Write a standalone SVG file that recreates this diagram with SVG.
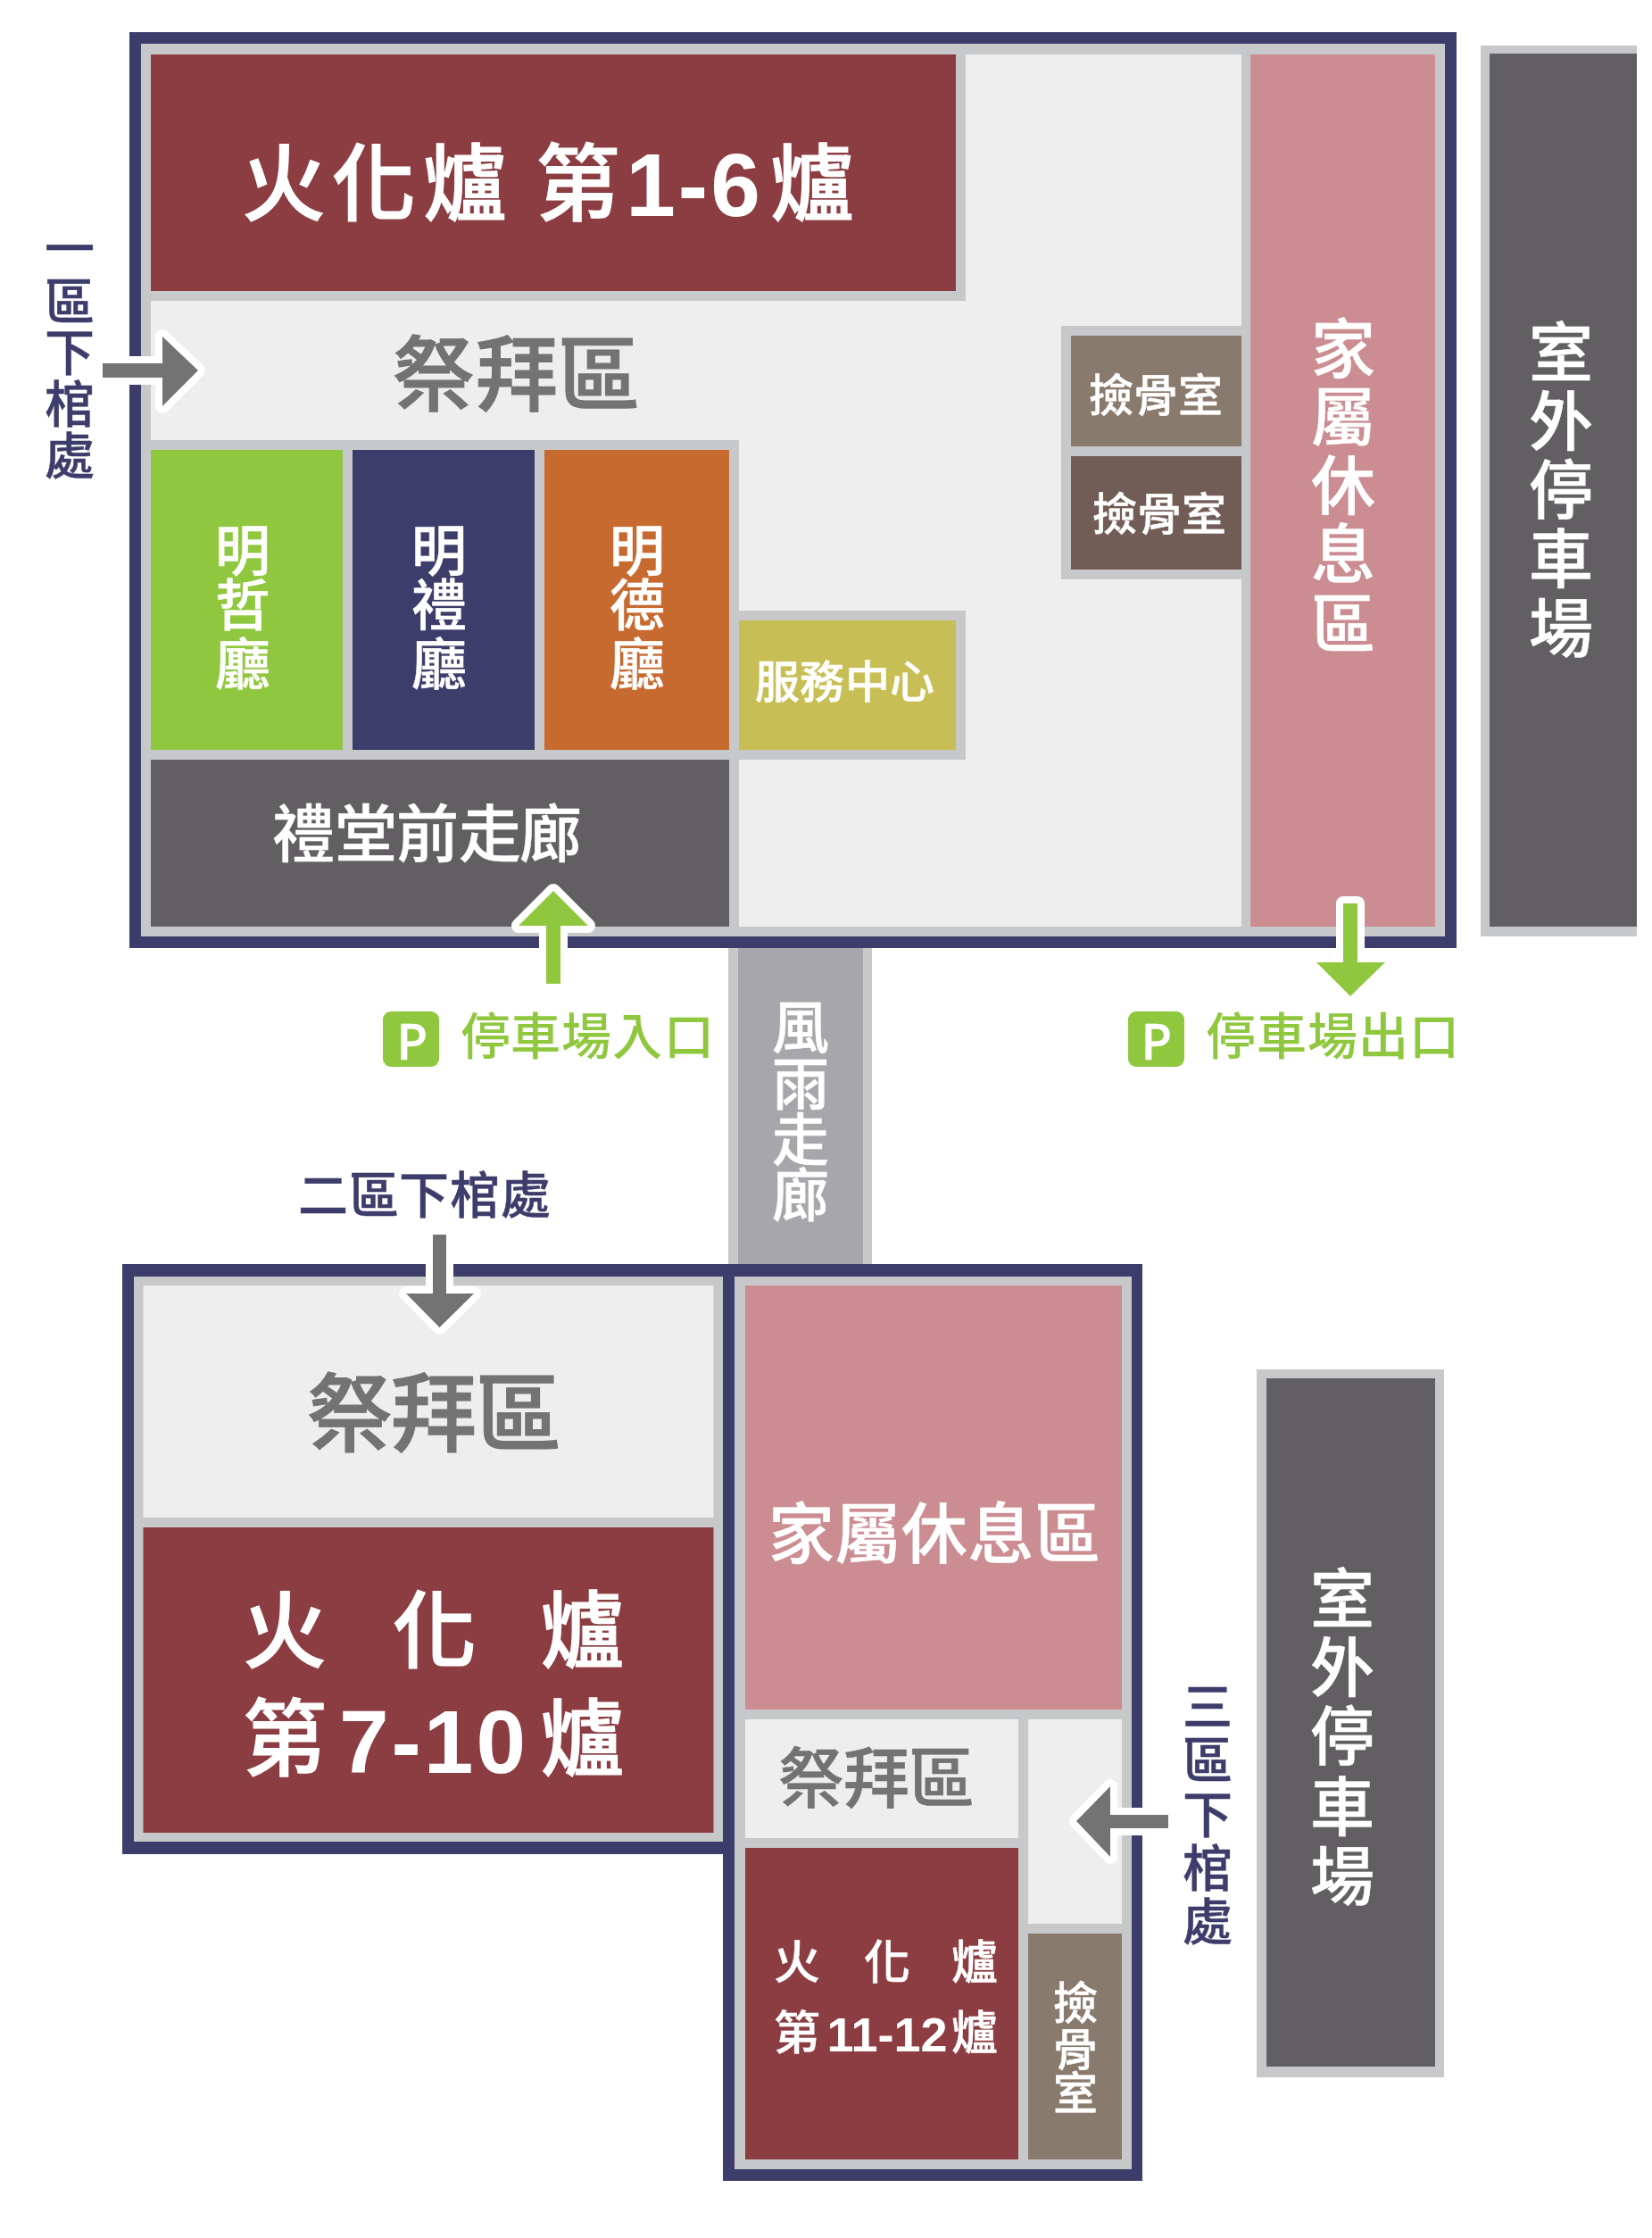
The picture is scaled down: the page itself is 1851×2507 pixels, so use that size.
<svg xmlns="http://www.w3.org/2000/svg" width="1851" height="2507" viewBox="0 0 1851 2507">
<style>
text{font-family:"Noto Sans CJK TC","Noto Sans",sans-serif;text-anchor:middle;font-weight:500;stroke-width:.5px}
.w{fill:#fff;stroke:#fff}.g{fill:#737373;stroke:#737373}.n{fill:#3d3d6b;stroke:#3d3d6b}.l{fill:#8fc73e;stroke:none}
.big{stroke-width:1.2px}
.d{font-family:"Liberation Sans",Arial,sans-serif;font-weight:700;letter-spacing:3px;stroke:none}
.navy{fill:#3d3d6b}.grey{fill:#c7c8ca}.light{fill:#eeeeee}.red{fill:#8c3d42}.pink{fill:#cb8d92}.dark{fill:#625f63}.taupe{fill:#897a6e}.brown{fill:#715c56}
.arrow{stroke:#fff;stroke-width:16;stroke-linejoin:round;paint-order:stroke}
</style>
<g id="corridor">
<rect class="grey" x="816" y="1060" width="161" height="358"/>
<rect x="827" y="1060" width="140" height="358" fill="#a7a6ab"/>
<text class="w" font-size="64" x="897 897 897 897" y="1174 1237 1300 1362">風雨走廊</text>
</g>
<g id="building-1">
<rect class="navy" x="145" y="36" width="1487" height="1026"/>
<rect class="grey" x="158" y="49" width="1461" height="1000"/>
<rect class="light" x="169" y="61" width="1439" height="977"/>
</g>
<g id="furnace-1-6">
<rect class="grey" x="158" y="49" width="924" height="288"/>
<rect class="red" x="169" y="61" width="902" height="265"/>
<text class="w big" font-size="94" y="240" x="318 419 521 647.500">火化爐第<tspan class="d" font-size="100" x="778" y="242">1-6</tspan><tspan x="910" y="240">爐</tspan></text>
</g>
<g id="worship-1">
<text class="g big" font-size="92" x="486 579 671" y="453">祭拜區</text>
</g>
<g id="hall-back">
<rect class="grey" x="158" y="493" width="670" height="556"/>
<rect class="grey" x="827" y="684" width="255" height="167"/>
</g>
<g id="hall-zhe">
<rect x="169" y="504" width="215" height="336" fill="#8fc73e"/>
<text class="w" font-size="62" x="272 272 272" y="640 701 767">明哲廳</text>
</g>
<g id="hall-li">
<rect class="navy" x="395" y="504" width="204" height="336"/>
<text class="w" font-size="62" x="492 492 492" y="640 701 767">明禮廳</text>
</g>
<g id="hall-de">
<rect x="610" y="504" width="207" height="336" fill="#c76a30"/>
<text class="w" font-size="62" x="714 714 714" y="640 701 767">明德廳</text>
</g>
<g id="service">
<rect x="828" y="695" width="243" height="145" fill="#c7bf55"/>
<text class="w" font-size="50" x="871 921 972 1022" y="782">服務中心</text>
</g>
<g id="front-hall">
<rect class="dark" x="169" y="851" width="648" height="187"/>
<text class="w" font-size="70" x="340 410 479 549 617" y="960">禮堂前走廊</text>
</g>
<g id="bone-rooms">
<rect class="grey" x="1189" y="365" width="212" height="284"/>
<rect class="taupe" x="1200" y="376" width="191" height="124"/>
<rect class="brown" x="1200" y="511" width="191" height="127"/>
<text class="w" font-size="50" x="1245 1295 1345" y="461">撿骨室</text>
<text class="w" font-size="50" x="1249 1299 1349" y="594">撿骨室</text>
</g>
<g id="family-1">
<rect class="grey" x="1391" y="49" width="228" height="1000"/>
<rect class="pink" x="1401" y="61" width="207" height="977"/>
<text class="w" font-size="72" x="1505 1505 1505 1505 1505" y="417 493 570 647 725">家屬休息區</text>
</g>
<g id="parking-1">
<rect class="grey" x="1659" y="51" width="175" height="998"/>
<rect class="dark" x="1669" y="60" width="165" height="978"/>
<text class="w" font-size="72" x="1749 1749 1749 1749 1749" y="421 498 575 652 730">室外停車場</text>
</g>
<g id="building-2">
<rect class="navy" x="137" y="1416" width="686" height="661"/>
<rect class="grey" x="150" y="1430" width="660" height="633"/>
<rect class="light" x="160.500" y="1440" width="639" height="260"/>
<rect class="red" x="160.500" y="1711" width="639" height="342"/>
<text class="g big" font-size="96" x="392 486 581" y="1618">祭拜區</text>
<text class="w big" font-size="94" x="319 487 652.500" y="1861">火化爐</text>
<text class="w big" font-size="94" y="1982" x="319">第<tspan class="d" font-size="100" x="486" y="1986">7-10</tspan><tspan x="652.500" y="1982">爐</tspan></text>
</g>
<g id="building-3">
<rect class="navy" x="810" y="1416" width="470" height="1027"/>
<rect class="grey" x="823" y="1430" width="445" height="1000"/>
<rect class="pink" x="835" y="1440" width="422" height="475"/>
<text class="w" font-size="74" x="898 972.500 1047 1121.500 1196" y="1745">家屬休息區</text>
<rect class="light" x="835" y="1926" width="306" height="133"/>
<text class="g" font-size="74" x="909 982 1055" y="2019">祭拜區</text>
<rect class="light" x="1152" y="1926" width="105" height="229"/>
<rect class="red" x="835" y="2070" width="306" height="349"/>
<text class="w" font-size="52" x="893 994 1092" y="2217">火化爐</text>
<text class="w" font-size="52" y="2296" x="893">第<tspan class="d" font-size="54" style="letter-spacing:0" x="994" y="2298">11-12</tspan><tspan x="1092" y="2296">爐</tspan></text>
<rect class="taupe" x="1152" y="2166" width="105" height="253"/>
<text class="w" font-size="50" x="1205 1205 1205" y="2262 2314 2363">撿骨室</text>
</g>
<g id="parking-2">
<rect class="grey" x="1408" y="1534" width="210" height="793"/>
<rect class="dark" x="1419" y="1544" width="189" height="771"/>
<text class="w" font-size="72" x="1504 1504 1504 1504 1504" y="1817 1894 1971 2050 2128">室外停車場</text>
</g>
<g id="label-zone-1"><text class="n" font-size="56" x="78 78 78 78 78" y="299 358 415 473 531">一區下棺處</text></g>
<g id="label-zone-2"><text class="n" font-size="56" x="362 419 475 532 589" y="1359">二區下棺處</text></g>
<g id="label-zone-3"><text class="n" font-size="56" x="1353 1353 1353 1353 1353" y="1932 1992 2053 2113 2173">三區下棺處</text></g>
<g id="parking-in">
<rect x="429" y="1133" width="63" height="62" rx="9" fill="#8fc73e"/>
<text style="font-family:'Noto Sans',sans-serif" class="w" font-size="57" x="462" y="1187">P</text>
<text class="l" font-size="56" x="544 600 657 714 772" y="1181">停車場入口</text>
</g>
<g id="parking-out">
<rect x="1264" y="1133" width="63" height="62" rx="9" fill="#8fc73e"/>
<text style="font-family:'Noto Sans',sans-serif" class="w" font-size="57" x="1296" y="1187">P</text>
<text class="l" font-size="56" x="1379 1436 1493 1550 1607" y="1181">停車場出口</text>
</g>
<g id="connectors">
<polygon class="arrow" fill="#737373" points="115,407 182,407 182,377 222,415 182,455 182,423 115,423"/>
<polygon class="arrow" fill="#737373" points="485,1383 500,1383 500,1449 531,1449 492.500,1487 455,1449 485,1449"/>
<polygon class="arrow" fill="#737373" points="1309,2033 1244,2033 1244,2001 1206,2040 1244,2080 1244,2048 1309,2048"/>
<polygon class="arrow" fill="#8fc73e" points="612,1102 612,1037 581,1037 620,998 659,1037 628,1037 628,1102"/>
<polygon class="arrow" fill="#8fc73e" points="1505,1012 1521,1012 1521,1078 1552,1078 1513,1116 1475,1078 1505,1078"/>
</g>
</svg>
